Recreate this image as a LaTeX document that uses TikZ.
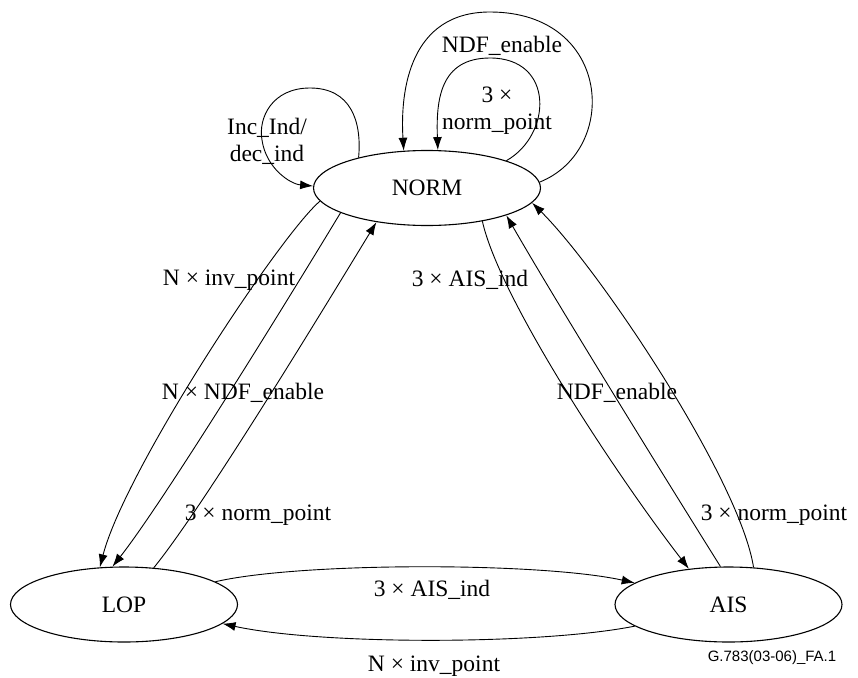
\documentclass[tikz,border=0pt]{standalone}
\usepackage{fontspec}
\setmainfont{Liberation Serif}
\newfontfamily\footfont{Liberation Sans}
\usetikzlibrary{shapes.geometric,arrows.meta}
\begin{document}
\begin{tikzpicture}[x=1pt,y=-1pt,
  state/.style={ellipse,draw,line width=1.1pt,minimum width=227pt,minimum height=75pt,inner sep=0pt,font=\fontsize{23.5}{27}\selectfont},
  lbl/.style={font=\fontsize{23.5}{27}\selectfont,inner sep=0pt,align=center},
  tr/.style={line width=0.9pt,-{Latex[length=13pt,width=9pt]}}]
\useasboundingbox (0,0) rectangle (858,677);
\node[state] (norm) at (427,188) {NORM};
\node[state] (lop) at (124,604.5) {LOP};
\node[state] (ais) at (728.5,604.5) {AIS};

% self loops on NORM
\draw[tr] (norm.156.7) .. controls (362,120) and (350,88) .. (310,88)
  .. controls (272,88) and (258,118) .. (262,140)
  .. controls (266,168) and (290,184) .. (norm.179);
\draw[tr] (norm.3) .. controls (620,150) and (612,12) .. (490,12)
  .. controls (410,12) and (400,90) .. (norm.122);
\draw[tr] (norm.19) .. controls (552,135) and (555,58) .. (490,58)
  .. controls (440,58) and (436,100) .. (norm.74);

% NORM <-> LOP
\draw[tr] (norm.187.3) .. controls (280,235) and (125,470) .. (lop.123);
\draw[tr] (norm.196.6) .. controls (300,280) and (165,500) .. (lop.107);
\draw[tr] (lop.51) .. controls (205,505) and (335,290) .. (norm.214);

% NORM <-> AIS
\draw[tr] (norm.-31.7) .. controls (500,300) and (620,480) .. (ais.138);
\draw[tr] (ais.102) .. controls (660,470) and (555,300) .. (norm.-19);
\draw[tr] (ais.56) .. controls (740,480) and (600,270) .. (norm.-8.8);

% LOP <-> AIS
\draw[tr] (lop.14.6) .. controls (300,562) and (540,562) .. (ais.167);
\draw[tr] (ais.193) .. controls (540,645) and (320,645) .. (lop.-11);

% labels
\node[lbl] (l1) at (267,141) {Inc\_Ind/\\dec\_ind};
\node[lbl] (l2) at (502,46) {NDF\_enable};
\node[lbl] (l3) at (497,111) {3 ×\\norm\_point};
\node[lbl] (l4) at (229,280) {N × inv\_point};
\node[lbl] (l5) at (243,393) {N × NDF\_enable};
\node[lbl] (l6) at (258,515) {3 × norm\_point};
\node[lbl] (l7) at (470,280) {3 × AIS\_ind};
\node[lbl] (l8) at (617,393) {NDF\_enable};
\node[lbl] (l9) at (774,515) {3 × norm\_point};
\node[lbl] (l10) at (432,590) {3 × AIS\_ind};
\node[lbl] (l11) at (434,666) {N × inv\_point};
\node[inner sep=0pt,font=\footfont\fontsize{15}{17}\selectfont] (ft) at (772,658) {G.783(03-06)\_FA.1};
\end{tikzpicture}
\end{document}
